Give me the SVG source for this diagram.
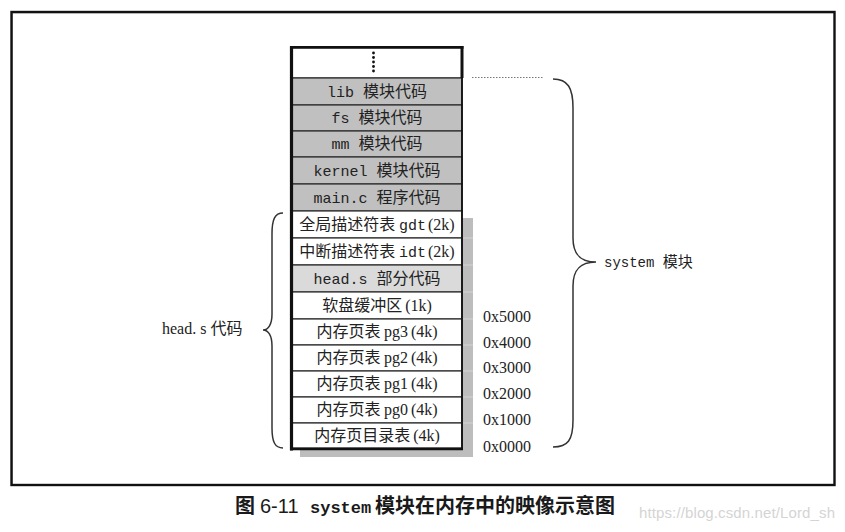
<svg xmlns="http://www.w3.org/2000/svg" width="845" height="532" viewBox="0 0 845 532">
<style>
.cell{stroke:#2a2a2a;stroke-width:1.2}
.g{fill:#c0c0c0}
.lg{fill:#dadada}
.w{fill:#ffffff}
.t{font-size:16px;fill:#222;text-anchor:middle}
.cjk{font-family:"Noto Sans CJK SC","Noto Sans CJK JP",sans-serif;font-size:16px}
.mono{font-family:"Liberation Mono","DejaVu Sans Mono",monospace;font-size:15px}
.ser{font-family:"Liberation Serif","DejaVu Serif",serif;font-size:16px}
.hex{font-family:"Liberation Serif","DejaVu Serif",serif;font-size:16px;fill:#222}
.brace{fill:none;stroke:#333;stroke-width:1.5}
.sh{stroke:#d4d4d4;stroke-width:1}
</style>
<rect x="0" y="0" width="845" height="532" fill="#ffffff"/>
<g id="frame">
<rect x="12.5" y="13" width="822" height="472" fill="none" stroke="#bdbdbd" stroke-width="1"/>
<rect x="11.5" y="12" width="823" height="473" fill="none" stroke="#111" stroke-width="2.4"/>
</g>
<g id="shadow">
<rect x="300" y="218" width="173" height="239" fill="#bdbdbd"/>
<g class="sh">
<line x1="462" y1="238" x2="473" y2="238"/>
<line x1="462" y1="265" x2="473" y2="265"/>
<line x1="462" y1="292" x2="473" y2="292"/>
<line x1="462" y1="319" x2="473" y2="319"/>
<line x1="462" y1="345" x2="473" y2="345"/>
<line x1="462" y1="371" x2="473" y2="371"/>
<line x1="462" y1="397" x2="473" y2="397"/>
<line x1="462" y1="423" x2="473" y2="423"/>
</g>
</g>
<g id="top-cell">
<rect class="cell w" x="291.5" y="47.5" width="170.5" height="30.5"/>
<circle cx="373.5" cy="53" r="1.4" fill="#111"/>
<circle cx="373.5" cy="57.5" r="1.4" fill="#111"/>
<circle cx="373.5" cy="62" r="1.4" fill="#111"/>
<circle cx="373.5" cy="66.5" r="1.4" fill="#111"/>
<circle cx="373.5" cy="71" r="1.4" fill="#111"/>
</g>
<g id="lib">
<rect class="cell g" x="291.5" y="78" width="170.5" height="27"/>
<text class="t" x="377" y="96.5"><tspan class="mono">lib </tspan><tspan class="cjk">模块代码</tspan></text>
</g>
<g id="fs">
<rect class="cell g" x="291.5" y="105" width="170.5" height="26"/>
<text class="t" x="377" y="123"><tspan class="mono">fs </tspan><tspan class="cjk">模块代码</tspan></text>
</g>
<g id="mm">
<rect class="cell g" x="291.5" y="131" width="170.5" height="26"/>
<text class="t" x="377" y="149"><tspan class="mono">mm </tspan><tspan class="cjk">模块代码</tspan></text>
</g>
<g id="kernel">
<rect class="cell g" x="291.5" y="157" width="170.5" height="27"/>
<text class="t" x="377" y="175.5"><tspan class="mono">kernel </tspan><tspan class="cjk">模块代码</tspan></text>
</g>
<g id="main">
<rect class="cell g" x="291.5" y="184" width="170.5" height="27"/>
<text class="t" x="377" y="202.5"><tspan class="mono">main.c </tspan><tspan class="cjk">程序代码</tspan></text>
</g>
<g id="gdt">
<rect class="cell w" x="291.5" y="211" width="170.5" height="27"/>
<text class="t" x="377" y="229.5"><tspan class="cjk">全局描述符表 </tspan><tspan class="mono">gdt</tspan><tspan class="ser" dx="2">(2k)</tspan></text>
</g>
<g id="idt">
<rect class="cell w" x="291.5" y="238" width="170.5" height="27"/>
<text class="t" x="377" y="256.5"><tspan class="cjk">中断描述符表 </tspan><tspan class="mono">idt</tspan><tspan class="ser" dx="2">(2k)</tspan></text>
</g>
<g id="head">
<rect class="cell lg" x="291.5" y="265" width="170.5" height="27"/>
<text class="t" x="377" y="283.5"><tspan class="mono">head.s </tspan><tspan class="cjk">部分代码</tspan></text>
</g>
<g id="floppy">
<rect class="cell w" x="291.5" y="292" width="170.5" height="27"/>
<text class="t" x="377" y="310.5"><tspan class="cjk">软盘缓冲区</tspan><tspan class="ser" dx="3">(1k)</tspan></text>
</g>
<g id="pg3">
<rect class="cell w" x="291.5" y="319" width="170.5" height="26"/>
<text class="t" x="377" y="337"><tspan class="cjk">内存页表 </tspan><tspan class="ser">pg3</tspan><tspan class="ser" dx="3">(4k)</tspan></text>
</g>
<g id="pg2">
<rect class="cell w" x="291.5" y="345" width="170.5" height="26"/>
<text class="t" x="377" y="363"><tspan class="cjk">内存页表 </tspan><tspan class="ser">pg2</tspan><tspan class="ser" dx="3">(4k)</tspan></text>
</g>
<g id="pg1">
<rect class="cell w" x="291.5" y="371" width="170.5" height="26"/>
<text class="t" x="377" y="389"><tspan class="cjk">内存页表 </tspan><tspan class="ser">pg1</tspan><tspan class="ser" dx="3">(4k)</tspan></text>
</g>
<g id="pg0">
<rect class="cell w" x="291.5" y="397" width="170.5" height="26"/>
<text class="t" x="377" y="415"><tspan class="cjk">内存页表 </tspan><tspan class="ser">pg0</tspan><tspan class="ser" dx="3">(4k)</tspan></text>
</g>
<g id="pgdir">
<rect class="cell w" x="291.5" y="423" width="170.5" height="25"/>
<text class="t" x="377" y="441"><tspan class="cjk">内存页目录表</tspan><tspan class="ser" dx="3">(4k)</tspan></text>
</g>
<g id="stack-border" fill="none" stroke="#111">
<line x1="291.5" y1="46" x2="291.5" y2="450.5" stroke-width="3.2"/>
<line x1="290" y1="47.3" x2="463.5" y2="47.3" stroke-width="2.8"/>
<line x1="462" y1="46" x2="462" y2="78" stroke-width="3"/>
<line x1="462" y1="78" x2="462" y2="449" stroke-width="1.8"/>
<line x1="290" y1="449" x2="463" y2="449" stroke-width="2.6"/>
</g>
<g id="connectors">
<line x1="472" y1="77.5" x2="543" y2="77.5" stroke="#777" stroke-width="1" stroke-dasharray="1.5 1.5"/>
<path class="brace" d="M553,79 C568,79 573,88 573,108 L573,238 C573,253 579,262 596,262 C579,262 573,271 573,286 L573,420 C573,440 568,447 553,447"/>
<path class="brace" d="M283,213 C275,213 272,219 272,234 L272,314 C272,325 268,330 263,330 C268,330 272,335 272,346 L272,428 C272,442 275,448 283,448"/>
</g>
<g id="system-label">
<text x="604" y="267" fill="#222"><tspan class="mono" style="font-size:14px">system </tspan><tspan class="cjk" style="font-size:15px">模块</tspan></text>
</g>
<g id="head-label">
<text x="162" y="334" fill="#222"><tspan class="ser">head. s </tspan><tspan class="cjk">代码</tspan></text>
</g>
<g id="addresses">
<text class="hex" x="483" y="322">0x5000</text>
<text class="hex" x="483" y="348">0x4000</text>
<text class="hex" x="483" y="373">0x3000</text>
<text class="hex" x="483" y="399">0x2000</text>
<text class="hex" x="483" y="425">0x1000</text>
<text class="hex" x="483" y="452">0x0000</text>
</g>
<g id="caption">
<text y="513" fill="#1a1a1a" style="font-weight:bold"><tspan x="235" class="cjk" style="font-size:20px">图 </tspan><tspan x="260" style="font-family:'Liberation Sans',sans-serif;font-size:20px;font-weight:normal">6-11 </tspan><tspan x="310" class="mono" style="font-size:17px">system </tspan><tspan x="375" class="cjk" style="font-size:20px">模块在内存中的映像示意图</tspan></text>
</g>
<g id="watermark">
<text x="639" y="518" font-family="Liberation Sans, sans-serif" font-size="15px" fill="#d4d4d4" textLength="196">https://blog.csdn.net/Lord_sh</text>
</g>
</svg>
